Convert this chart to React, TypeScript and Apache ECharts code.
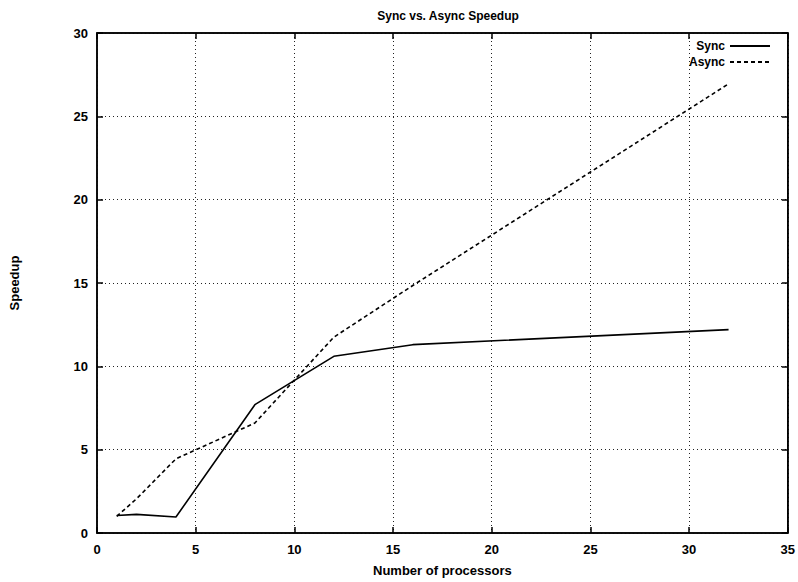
import React, { useEffect, useRef } from "react";
import * as echarts from "echarts";

const processors = [1, 2, 4, 8, 12, 16, 32];
const syncSpeedup = [1.05, 1.12, 0.96, 7.7, 10.6, 11.3, 12.2];
const asyncSpeedup = [1.0, 2.05, 4.45, 6.6, 11.75, 14.85, 26.95];
const xTicks = [0, 35, 5];
const yTicks = [0, 30, 5];

const FONT = "'Liberation Sans', Arial, Helvetica, sans-serif";

export default function App() {
  const ref = useRef<HTMLDivElement>(null);
  useEffect(() => {
    if (!ref.current) return;
    const chart = echarts.init(ref.current, undefined, { renderer: "svg" });
    const toPairs = (ys: number[]) => processors.map((x, i) => [x, ys[i]]);
    const gridLine = { show: true, lineStyle: { color: "#222", type: [1, 3] as any, width: 1 } };
    const baseAxis = (extra: any) => ({
      type: "value",
      min: xTicks[0],
      max: xTicks[1],
      interval: xTicks[2],
      axisLine: { show: true, onZero: false, lineStyle: { color: "#000", width: 1.5 } },
      axisTick: { show: true, inside: true, length: 6, lineStyle: { color: "#000", width: 1.5 } },
      ...extra,
    });
    chart.setOption({
      animation: false,
      backgroundColor: "#fff",
      textStyle: { fontFamily: FONT },
      title: {
        text: "Sync vs. Async Speedup",
        left: 443,
        top: 5,
        textAlign: "center",
        textStyle: { fontFamily: FONT, fontSize: 12, fontWeight: "bold", color: "#000" },
      },
      legend: {
        orient: "vertical",
        right: 22,
        top: 35,
        align: "right",
        itemWidth: 40,
        itemHeight: 10,
        itemGap: 4,
        itemStyle: { opacity: 0 },
        textStyle: { fontFamily: FONT, fontSize: 12, fontWeight: "bold", color: "#000" },
        data: ["Sync", "Async"],
      },
      grid: { left: 97, right: 9, top: 33, bottom: 41, show: true, borderColor: "#000", borderWidth: 1.5 },
      xAxis: [
        baseAxis({
          position: "bottom",
          name: "Number of processors",
          nameLocation: "middle",
          nameGap: 31,
          nameTextStyle: { fontFamily: FONT, fontSize: 13, fontWeight: "bold", color: "#000" },
          axisLabel: { fontFamily: FONT, fontSize: 13, fontWeight: "bold", color: "#000", margin: 10 },
          splitLine: gridLine,
        }),
        baseAxis({ position: "top", axisLabel: { show: false }, splitLine: { show: false } }),
      ],
      yAxis: [
        {
          type: "value",
          position: "left",
          min: yTicks[0],
          max: yTicks[1],
          interval: yTicks[2],
          name: "Speedup",
          nameLocation: "middle",
          nameGap: 76,
          nameRotate: 90,
          nameTextStyle: { fontFamily: FONT, fontSize: 13, fontWeight: "bold", color: "#000" },
          axisLine: { show: true, onZero: false, lineStyle: { color: "#000", width: 1.5 } },
          axisTick: { show: true, inside: true, length: 6, lineStyle: { color: "#000", width: 1.5 } },
          axisLabel: { fontFamily: FONT, fontSize: 13, fontWeight: "bold", color: "#000", margin: 9 },
          splitLine: gridLine,
        },
        {
          type: "value",
          position: "right",
          min: yTicks[0],
          max: yTicks[1],
          interval: yTicks[2],
          axisLine: { show: true, onZero: false, lineStyle: { color: "#000", width: 1.5 } },
          axisTick: { show: true, inside: true, length: 6, lineStyle: { color: "#000", width: 1.5 } },
          axisLabel: { show: false },
          splitLine: { show: false },
        },
      ],
      series: [
        {
          name: "Sync",
          type: "line",
          data: toPairs(syncSpeedup),
          symbol: "none",
          lineStyle: { color: "#000", width: 1.6, type: "solid" },
          itemStyle: { color: "#000" },
        },
        {
          name: "Async",
          type: "line",
          data: toPairs(asyncSpeedup),
          symbol: "none",
          lineStyle: { color: "#000", width: 1.6, type: [4, 3] as any },
          itemStyle: { color: "#000" },
        },
      ],
    });
    return () => chart.dispose();
  }, []);
  return <div ref={ref} style={{ width: 798, height: 582, position: "absolute", left: 0, top: 0 }} />;
}
